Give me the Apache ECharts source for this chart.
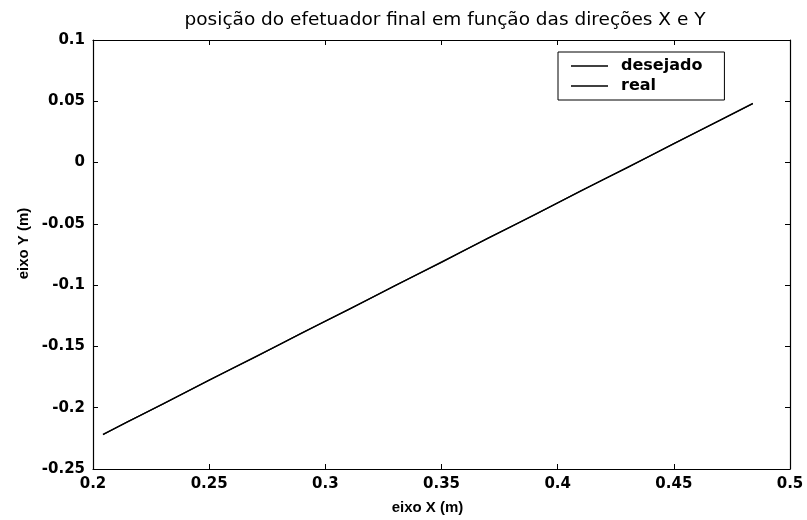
<!DOCTYPE html>
<html>
<head>
<meta charset="utf-8">
<script src="https://cdn.jsdelivr.net/npm/echarts@6/dist/echarts.min.js"></script>
<style>
  html, body { margin: 0; padding: 0; background: #fff; }
  #chart { width: 807px; height: 520px; }
</style>
</head>
<body>
<div id="chart"></div>
<script>
// values
var xDesejado = [0.2043, 0.22, 0.24, 0.26, 0.28, 0.30, 0.32, 0.34, 0.36, 0.38, 0.40, 0.42, 0.44, 0.46, 0.484];
var yDesejado = [-0.2218, -0.2067, -0.1873, -0.1680, -0.1487, -0.1294, -0.1101, -0.0908, -0.0715, -0.0522, -0.0329, -0.0136, 0.0057, 0.0250, 0.0482];
var xReal = [0.2043, 0.215, 0.23, 0.25, 0.27, 0.29, 0.31, 0.33, 0.35, 0.37, 0.39, 0.41, 0.43, 0.45, 0.47, 0.484];
var yReal = [-0.2220, -0.2113, -0.1972, -0.1774, -0.1586, -0.1388, -0.1200, -0.1002, -0.0815, -0.0616, -0.0428, -0.0230, -0.0042, 0.0156, 0.0345, 0.0480];

var xTicks = { min: 0.2, max: 0.5, interval: 0.05 };
var yTicks = { min: -0.25, max: 0.1, interval: 0.05 };

function pairs(xs, ys) {
  return xs.map(function (x, i) { return [x, ys[i]]; });
}

var font = 'Liberation Sans, Arial, Helvetica, sans-serif';
var wide = 'DejaVu Sans, sans-serif';
var chart = echarts.init(document.getElementById('chart'), null, { renderer: 'canvas' });

var axisCommon = {
  type: 'value',
  axisLine: { show: true, onZero: false, lineStyle: { color: '#000', width: 1.2 } },
  axisTick: { show: true, inside: true, length: 5, lineStyle: { color: '#000' } },
  splitLine: { show: false }
};

var option = {
  backgroundColor: '#fff',
  animation: false,
  title: {
    text: 'posição do efetuador final em função das direções X e Y',
    left: 440,
    textAlign: 'center',
    top: 6,
    textStyle: { fontFamily: wide, fontSize: 18.5, fontWeight: 'normal', color: '#000' }
  },
  legend: {
    orient: 'vertical',
    left: 558,
    top: 52,
    data: ['desejado', 'real'],
    icon: 'rect',
    itemWidth: 37,
    itemHeight: 1.5,
    itemGap: 4,
    padding: [6, 22, 6, 13],
    borderColor: '#000',
    borderWidth: 1,
    backgroundColor: '#fff',
    textStyle: { fontFamily: wide, fontSize: 16, fontWeight: 'bold', color: '#000', padding: [0, 0, 0, 8] }
  },
  grid: { left: 93, right: 17, top: 40, bottom: 47, containLabel: false },
  xAxis: [
    Object.assign({}, axisCommon, {
      position: 'bottom',
      min: xTicks.min, max: xTicks.max, interval: xTicks.interval,
      name: 'eixo X (m)',
      nameLocation: 'middle',
      nameGap: 31,
      nameTextStyle: { fontFamily: font, fontSize: 15, fontWeight: 'bold', color: '#000', padding: [0, 28, 0, 0] },
      axisLabel: { fontFamily: wide, fontSize: 15, fontWeight: 'bold', color: '#000', margin: 8 }
    }),
    Object.assign({}, axisCommon, {
      position: 'top',
      min: xTicks.min, max: xTicks.max, interval: xTicks.interval,
      axisLabel: { show: false }
    })
  ],
  yAxis: [
    Object.assign({}, axisCommon, {
      position: 'left',
      min: yTicks.min, max: yTicks.max, interval: yTicks.interval,
      name: 'eixo Y (m)',
      nameLocation: 'middle',
      nameGap: 60,
      nameTextStyle: { fontFamily: font, fontSize: 15, fontWeight: 'bold', color: '#000', padding: [0, 0, 0, 22] },
      axisLabel: { fontFamily: wide, fontSize: 15, fontWeight: 'bold', color: '#000', margin: 8 }
    }),
    Object.assign({}, axisCommon, {
      position: 'right',
      min: yTicks.min, max: yTicks.max, interval: yTicks.interval,
      axisLabel: { show: false }
    })
  ],
  series: [
    {
      name: 'desejado',
      type: 'line',
      showSymbol: false,
      data: pairs(xDesejado, yDesejado),
      lineStyle: { color: '#000', width: 1.4 },
      itemStyle: { color: '#000' }
    },
    {
      name: 'real',
      type: 'line',
      showSymbol: false,
      data: pairs(xReal, yReal),
      lineStyle: { color: '#000', width: 1.1 },
      itemStyle: { color: '#000' }
    }
  ]
};

chart.setOption(option);
</script>
</body>
</html>
